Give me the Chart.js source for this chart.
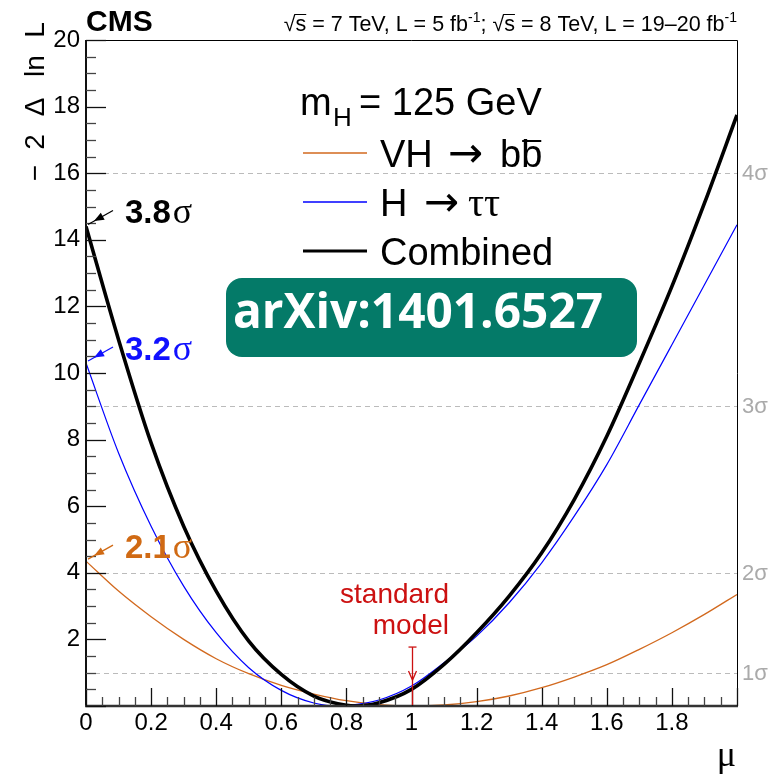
<!DOCTYPE html>
<html><head><meta charset="utf-8">
<script src="https://cdn.jsdelivr.net/npm/chart.js@4"></script>
<style>html,body{margin:0;padding:0;background:#fff;overflow:hidden}#wrap{width:778px;height:776px;position:relative}</style>
</head><body><div id="wrap"><canvas id="c" width="778" height="776"></canvas></div>
<script>
// ---- data ----
const combinedMu  = [0,0.1,0.2,0.3,0.4,0.5,0.6,0.7,0.8,0.83,0.9,1.0,1.1,1.2,1.3,1.4,1.5,1.6,1.7,1.8,1.9,2.0];
const combinedNll = [14.4,11.0,7.9,5.4,3.45,1.95,0.95,0.3,0.02,0,0.1,0.5,1.25,2.2,3.3,4.6,6.2,8.1,10.3,12.6,15.1,17.75];
const tautauMu    = [0,0.1,0.2,0.3,0.4,0.5,0.6,0.7,0.78,0.8,0.9,1.0,1.1,1.2,1.3,1.4,1.5,1.6,1.7,1.8,1.9,2.0];
const tautauNll   = [10.3,7.6,5.4,3.6,2.2,1.15,0.47,0.09,0,0.01,0.18,0.6,1.3,2.1,3.1,4.3,5.7,7.25,9.05,10.85,12.65,14.45];
const bbMu        = [0,0.1,0.2,0.3,0.4,0.5,0.6,0.7,0.8,0.9,1.0,1.1,1.2,1.3,1.4,1.5,1.6,1.7,1.8,1.9,2.0];
const bbNll       = [4.35,3.45,2.68,2.0,1.42,0.97,0.62,0.36,0.16,0.04,0,0.03,0.13,0.3,0.55,0.87,1.24,1.7,2.2,2.75,3.35];
const seriesNames  = ['Combined','H \u2192 \u03c4\u03c4','VH \u2192 bb'];
const sigmaLevels  = [1,4,9,16];
const sigmaLabels  = ['1\u03c3','2\u03c3','3\u03c3','4\u03c3'];
const signifLabels = ['3.8','3.2','2.1'];
const xTickStep = 0.2, yTickStep = 2;
const smMu = 1.0;

const SANS = '"Liberation Sans", Arial, Helvetica, sans-serif';
const SERIF = '"Liberation Serif", "Times New Roman", serif';
const ARROWF = '"DejaVu Sans", sans-serif';
const cOrange = '#d2691e', cOrangeTxt = '#d06a14', cBlue = '#0000ff', cBlueTxt = '#1010ff', cRed = '#cc1111';

function pts(xs, ys){ return xs.map((m,i)=>({x:m,y:ys[i]})); }

function arrowHead(ctx, x0,y0,x1,y1,len,wid,color){
  const a = Math.atan2(y1-y0,x1-x0);
  ctx.fillStyle=color; ctx.beginPath();
  ctx.moveTo(x1,y1);
  ctx.lineTo(x1-len*Math.cos(a)+wid*Math.sin(a), y1-len*Math.sin(a)-wid*Math.cos(a));
  ctx.lineTo(x1-len*Math.cos(a)-wid*Math.sin(a), y1-len*Math.sin(a)+wid*Math.cos(a));
  ctx.closePath(); ctx.fill();
}

const rootPlugin = {
  id:'rootStyle',
  beforeDatasetsDraw(chart){
    const {ctx, chartArea:a, scales:{y}} = chart;
    ctx.save();
    ctx.strokeStyle='#bbbbbb'; ctx.lineWidth=1; ctx.setLineDash([5,4]);
    sigmaLevels.forEach(v=>{
      const py=Math.round(y.getPixelForValue(v))+0.5;
      ctx.beginPath(); ctx.moveTo(a.left,py); ctx.lineTo(a.right,py); ctx.stroke();
    });
    ctx.restore();
  },
  afterDraw(chart){
    const {ctx, chartArea:a, scales:{x,y}} = chart;
    ctx.save();
    // frame
    ctx.strokeStyle='#000'; ctx.lineWidth=1;
    ctx.beginPath(); ctx.moveTo(a.left,a.top+0.5); ctx.lineTo(a.right+0.5,a.top+0.5); ctx.lineTo(a.right+0.5,a.bottom); ctx.stroke();
    ctx.lineWidth=2; ctx.strokeStyle='#111';
    ctx.beginPath(); ctx.moveTo(a.left,a.top); ctx.lineTo(a.left,a.bottom); ctx.stroke();
    ctx.strokeStyle='#333'; ctx.lineWidth=2.5;
    ctx.beginPath(); ctx.moveTo(a.left-1,a.bottom); ctx.lineTo(a.right+1,a.bottom); ctx.stroke();
    // ticks
    ctx.lineWidth=1.3;
    for(let i=0;i<=40;i++){
      const v=i*0.05; const px=Math.round(x.getPixelForValue(v))+0.5;
      const major = (i%4===0);
      ctx.strokeStyle = major?'#111':'#444';
      ctx.beginPath(); ctx.moveTo(px,a.bottom); ctx.lineTo(px,a.bottom-(major?18:9)); ctx.stroke();
    }
    for(let i=0;i<=40;i++){
      const v=i*0.5; const py=Math.round(y.getPixelForValue(v))+0.5;
      const major = (i%4===0);
      ctx.strokeStyle = major?'#111':'#444';
      ctx.beginPath(); ctx.moveTo(a.left,py); ctx.lineTo(a.left+(major?20:10),py); ctx.stroke();
    }
    // sigma labels on right
    ctx.fillStyle='#aaaaaa'; ctx.font='22px '+SANS; ctx.textBaseline='middle'; ctx.textAlign='left';
    sigmaLevels.forEach((v,i)=>{ ctx.fillText(sigmaLabels[i], a.right+5, y.getPixelForValue(v)+1); });
    ctx.textBaseline='alphabetic';

    // CMS
    ctx.fillStyle='#000'; ctx.font='bold 30px '+SANS; ctx.fillText('CMS', a.left, 31);
    // energy / lumi text (right aligned)
    const f='21.5px '+SANS, fs='14px '+SANS;
    const segs=[['\u221a',f,0],['s',f,0,true],[' = 7 TeV, L = 5 fb',f,0],['-1',fs,-9],['; ',f,0],['\u221a',f,0],['s',f,0,true],[' = 8 TeV, L = 19\u201320 fb',f,0],['-1',fs,-9]];
    let tw=0; segs.forEach(s=>{ctx.font=s[1]; s.w=ctx.measureText(s[0]).width; tw+=s.w;});
    let cx=a.right-tw; const by=31;
    segs.forEach(s=>{ctx.font=s[1]; ctx.fillText(s[0],cx,by+s[2]);
      if(s[3]){ctx.lineWidth=1; ctx.strokeStyle='#000'; ctx.beginPath(); ctx.moveTo(cx-1,by-16.5); ctx.lineTo(cx+s.w,by-16.5); ctx.stroke();}
      cx+=s.w;});

    // y axis title (rotated)
    ctx.save(); ctx.translate(36,0); ctx.rotate(-Math.PI/2);
    ctx.font='28px '+SANS; ctx.textAlign='center'; ctx.textBaseline='middle';
    [['\u2212',173],['2',142],['\u0394',107],['ln',66],['L',30]].forEach(p=>ctx.fillText(p[0],-p[1],0));
    ctx.restore();
    // x axis title
    ctx.font='36px '+SERIF; ctx.textAlign='right'; ctx.fillStyle='#000'; ctx.fillText('\u03bc', a.right-1, 766);
    ctx.textAlign='left';

    // legend
    ctx.font='38px '+SANS; ctx.fillText('m',300,115);
    ctx.font='26px '+SANS; ctx.fillText('H',333,126);
    ctx.font='38px '+SANS; ctx.fillText('= 125 GeV',359,115);
    const rows=[[cOrange,1.3,167],[cBlue,1.3,216],['#000',3,265]];
    rows.forEach(r=>{ctx.strokeStyle=r[0]; ctx.lineWidth=r[1]; ctx.beginPath(); ctx.moveTo(303,r[2]-14); ctx.lineTo(367,r[2]-14); ctx.stroke();});
    ctx.fillStyle='#000'; ctx.font='38px '+SANS;
    ctx.fillText('VH',380,167); ctx.fillText('bb',500,167);
    const bw=ctx.measureText('b').width;
    ctx.lineWidth=2; ctx.strokeStyle='#000'; ctx.beginPath(); ctx.moveTo(500+bw+1,141); ctx.lineTo(500+2*bw-1,141); ctx.stroke();
    ctx.fillText('H',380,216);
    ctx.font='42px '+ARROWF; ctx.fillText('\u2192',448,167); ctx.fillText('\u2192',424,216);
    ctx.font='40px '+SERIF; ctx.fillText('\u03c4\u03c4',468,216);
    ctx.font='38px '+SANS; ctx.fillText(seriesNames[0],380,265);

    // arXiv box
    ctx.fillStyle='#047a68'; ctx.beginPath(); ctx.roundRect(226,278,411,79,16); ctx.fill();
    ctx.fillStyle='#fff'; let fsz=46; ctx.font='bold '+fsz+'px "Open Sans", sans-serif';
    const tw2=ctx.measureText('arXiv:1401.6527').width; fsz=fsz*370/tw2;
    ctx.font='bold '+fsz.toFixed(1)+'px "Open Sans", sans-serif'; ctx.textAlign='center';
    ctx.fillText('arXiv:1401.6527',418,328); ctx.textAlign='left';

    // significance annotations at mu=0
    const zeroVals=[combinedNll[0], tautauNll[0], bbNll[0]];
    const cols=['#000',cBlueTxt,cOrangeTxt];
    zeroVals.forEach((v,i)=>{
      const tipX=x.getPixelForValue(0)+2, tipY=y.getPixelForValue(v)-2;
      const tailX=tipX+25, tailY=tipY-14;
      ctx.strokeStyle=cols[i]; ctx.lineWidth=1.3;
      ctx.beginPath(); ctx.moveTo(tailX,tailY); ctx.lineTo(tipX,tipY); ctx.stroke();
      arrowHead(ctx,tailX,tailY,tipX+6,tipY-3.4,10,4,cols[i]);
      ctx.fillStyle=cols[i]; ctx.font='bold 33px '+SANS;
      ctx.fillText(signifLabels[i],125,tipY-1);
      const w=ctx.measureText(signifLabels[i]).width;
      ctx.font='36px '+SERIF; ctx.fillText('\u03c3',125+w+2,tipY-1);
    });

    // standard model marker
    const sx=Math.round(x.getPixelForValue(smMu))+0.5;
    ctx.fillStyle=cRed; ctx.font='28px '+SANS; ctx.textAlign='right';
    ctx.fillText('standard',449,603); ctx.fillText('model',449,634); ctx.textAlign='left';
    const yTop=y.getPixelForValue(1.77), yTip=y.getPixelForValue(0.78);
    ctx.strokeStyle=cRed; ctx.lineWidth=1.3;
    ctx.beginPath(); ctx.moveTo(sx,yTop); ctx.lineTo(sx,a.bottom-1); ctx.stroke();
    ctx.beginPath(); ctx.moveTo(sx-4,yTop); ctx.lineTo(sx+4,yTop); ctx.stroke();
    ctx.beginPath(); ctx.moveTo(sx-4,yTip-9); ctx.lineTo(sx,yTip); ctx.lineTo(sx+4,yTip-9); ctx.stroke();
    ctx.restore();
  }
};

function fmtX(v){ if(Math.abs(v-2)<1e-6) return ''; return String(Math.round(v*10)/10); }

function build(){
  new Chart(document.getElementById('c').getContext('2d'), {
    type:'line',
    data:{datasets:[
      {label:seriesNames[0], data:pts(combinedMu,combinedNll), borderColor:'#000', borderWidth:3.6, pointRadius:0, cubicInterpolationMode:'monotone', fill:false},
      {label:seriesNames[1], data:pts(tautauMu,tautauNll), borderColor:cBlue, borderWidth:1.2, pointRadius:0, cubicInterpolationMode:'monotone', fill:false},
      {label:seriesNames[2], data:pts(bbMu,bbNll), borderColor:cOrange, borderWidth:1.3, pointRadius:0, cubicInterpolationMode:'monotone', fill:false}
    ]},
    options:{
      responsive:false, animation:false, devicePixelRatio:1,
      layout:{padding:{top:40,right:41,bottom:0,left:0}},
      plugins:{legend:{display:false}, tooltip:{enabled:false}},
      scales:{
        x:{type:'linear', min:0, max:2, grid:{display:false, drawTicks:false}, border:{display:false},
           ticks:{stepSize:xTickStep, autoSkip:false, maxRotation:0, padding:3, color:'#000', font:{family:SANS, size:24}, callback:fmtX},
           afterFit:s=>{s.height=70;}},
        y:{type:'linear', min:0, max:20, grid:{display:false, drawTicks:false}, border:{display:false},
           ticks:{stepSize:yTickStep, autoSkip:false, padding:6, color:'#000', font:{family:SANS, size:24}, callback:v=>(v===0?'':String(v))},
           afterFit:s=>{s.width=86;}}
      }
    },
    plugins:[rootPlugin]
  });
}
Promise.all([document.fonts.load('bold 40px "Open Sans"'),document.fonts.load('24px "Liberation Sans"'),document.fonts.load('30px "Liberation Serif"'),document.fonts.load('30px "DejaVu Sans"')]).then(build, build);
</script></body></html>
